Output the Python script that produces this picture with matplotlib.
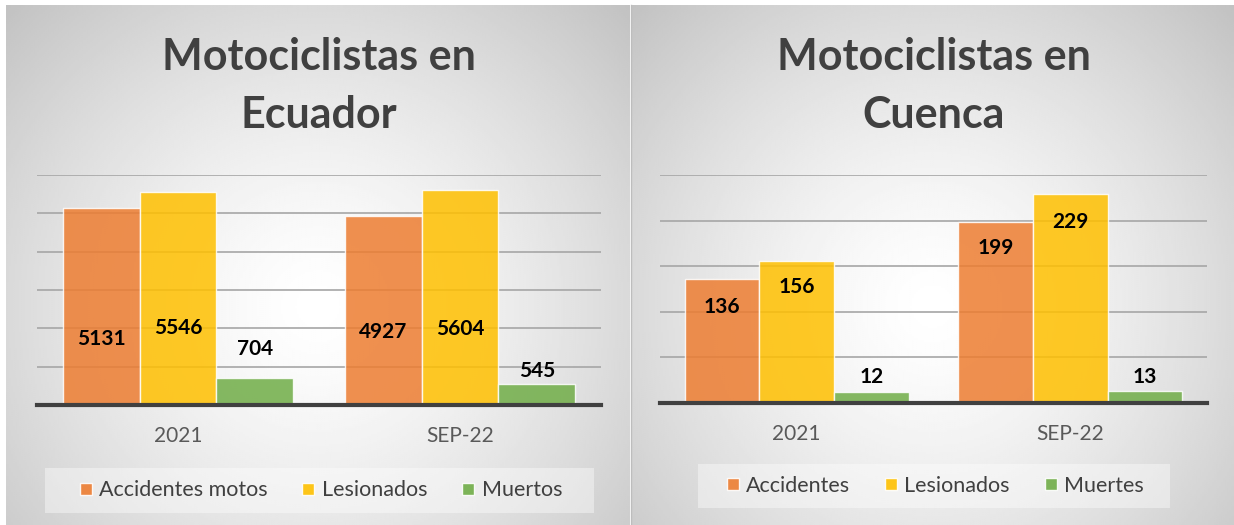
import numpy as np
import matplotlib.pyplot as plt
from matplotlib.patches import Rectangle
from matplotlib.lines import Line2D

W, H = 1234, 525

periods = ['2021', 'SEP-22']

# Ecuador
ec_series = ['Accidentes motos', 'Lesionados', 'Muertos']
ec_accidentes = [5131, 4927]
ec_lesionados = [5546, 5604]
ec_muertos = [704, 545]

# Cuenca
cu_series = ['Accidentes', 'Lesionados', 'Muertes']
cu_accidentes = [136, 199]
cu_lesionados = [156, 229]
cu_muertes = [12, 13]

# where each data label sits (data units), as placed in the original
ec_label_y = [[1720, 1905], [2010, 1985], [1460, 890]]
cu_label_y = [[105, 170], [127, 198], [28, 28]]

colors = ['#ED7D31', '#FFC000', '#70AD47']
plt.rcParams['font.family'] = ['Lato', 'DejaVu Sans']


def px(x0, y0, x1, y1):
    # pixel box (top-left origin) -> figure rect
    return [x0 / W, 1 - y1 / H, (x1 - x0) / W, (y1 - y0) / H]


def background(rect):
    ax = fig.add_axes(rect, zorder=0)
    ny, nx = 260, 310
    yy, xx = np.mgrid[0:1:ny * 1j, 0:1:nx * 1j]
    r = np.sqrt(((xx - 0.5) / 0.5) ** 2 + ((yy - 0.58) / 0.58) ** 2) / np.sqrt(2)
    v = 1 - 0.24 * np.clip(r, 0, 1) ** 1.4
    ax.imshow(v, cmap='gray', vmin=0, vmax=1, aspect='auto',
              extent=[0, 1, 1, 0], interpolation='bilinear')
    ax.set_axis_off()


def panel(rect, series_vals, names, label_y, ymax, step, title, title_x,
          legend_box):
    ax = fig.add_axes(rect, zorder=2)
    ax.set_facecolor('none')
    x = np.arange(len(periods))
    w = 0.273
    for i, vals in enumerate(series_vals):
        xs = x + (i - 1) * w
        ax.bar(xs, vals, width=w, color=colors[i], alpha=0.85,
               edgecolor=(1, 1, 1, 0.7), linewidth=1, zorder=3)
        for xi, v, ly in zip(xs, vals, label_y[i]):
            ax.text(xi, ly, str(v), ha='center', va='center',
                    fontsize=15, fontweight='bold', color='black', zorder=5)
    ax.set_xlim(-0.5, 1.5)
    ax.set_ylim(0, ymax)
    ax.set_yticks(np.arange(0, ymax + step, step))
    ax.yaxis.grid(True, color='#a6a6a6', linewidth=1.2, zorder=1)
    ax.tick_params(axis='y', length=0, labelleft=False)
    ax.set_xticks(x)
    ax.set_xticklabels(periods, fontsize=15, color='#595959')
    ax.tick_params(axis='x', length=0, pad=15)
    for s in ['top', 'right', 'left']:
        ax.spines[s].set_visible(False)
    ax.spines['bottom'].set_color('#404040')
    ax.spines['bottom'].set_linewidth(3)
    ax.spines['bottom'].set_zorder(6)

    fig.text(title_x / W, 1 - 70 / H, title[0], ha='center', va='baseline',
             fontsize=31, fontweight='bold', color='#404040', zorder=4)
    fig.text(title_x / W, 1 - 128 / H, title[1], ha='center', va='baseline',
             fontsize=31, fontweight='bold', color='#404040', zorder=4)

    bx0, by0, bx1, by1 = legend_box
    fig.patches.append(Rectangle((bx0 / W, 1 - by1 / H), (bx1 - bx0) / W,
                                 (by1 - by0) / H, transform=fig.transFigure,
                                 facecolor='white', alpha=0.4, edgecolor='none',
                                 zorder=1))
    handles = [Line2D([], [], marker='s', linestyle='none', markersize=9,
                      markerfacecolor=c, markeredgecolor=(1, 1, 1, 0.6), alpha=0.9)
               for c in colors]
    fig.legend(handles, names, loc='center',
               bbox_to_anchor=((bx0 + bx1) / 2 / W, 1 - (by0 + by1) / 2 / H),
               ncol=3, frameon=False, fontsize=15.5, labelcolor='#404040',
               handlelength=0.8, handletextpad=0.22, columnspacing=1.5)


fig = plt.figure(figsize=(W / 100, H / 100), dpi=100)
fig.patch.set_facecolor('white')

background(px(6, 5, 630, 525))
background(px(631, 5, 1234, 525))
fig.add_artist(Line2D([630.5 / W, 630.5 / W], [0, 1 - 5 / H], color='#bdbdbd',
                      linewidth=1, transform=fig.transFigure, zorder=1))

panel(px(37, 175, 601, 405), [ec_accidentes, ec_lesionados, ec_muertos],
      ec_series, ec_label_y, 6000, 1000, ['Motociclistas en', 'Ecuador'], 319,
      (45, 468, 594, 513))
panel(px(660, 175, 1207, 403), [cu_accidentes, cu_lesionados, cu_muertes],
      cu_series, cu_label_y, 250, 50, ['Motociclistas en', 'Cuenca'], 934,
      (698, 464, 1170, 508))

fig.savefig('out.png', dpi=100)
